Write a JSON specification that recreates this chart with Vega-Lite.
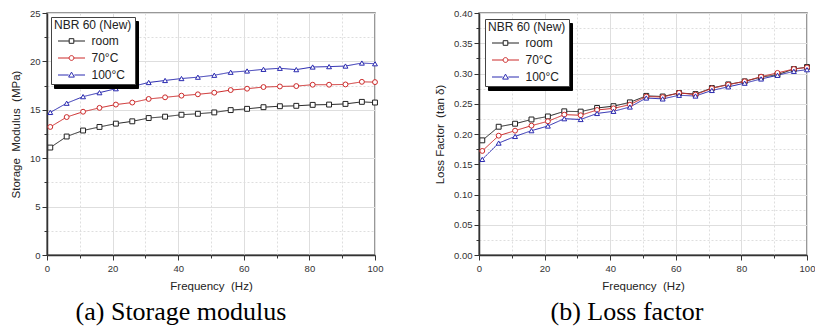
{
  "$schema": "https://vega.github.io/schema/vega-lite/v6.json",
  "padding": {"left": 9, "top": 7, "right": 0, "bottom": 0},
  "spacing": 49,
  "background": "white",
  "config": {
    "font": "Liberation Sans",
    "view": {"stroke": "#777777", "strokeWidth": 1.5},
    "axis": {
      "labelFont": "Liberation Sans", "labelFontSize": 9.5, "labelColor": "#333333",
      "titleFont": "Liberation Sans", "titleFontSize": 11.5, "titleFontWeight": "normal", "titleColor": "#222222",
      "domainColor": "#333333", "domainWidth": 1.5, "tickColor": "#333333", "tickWidth": 1,
      "gridColor": "#dedede", "gridWidth": 1, "labelPadding": 2, "titlePadding": 8,
      "labelFlush": false, "labelOverlap": false, "labelBound": false
    },
    "legend": {
      "labelFont": "Liberation Sans", "labelFontSize": 12, "labelColor": "#222222",
      "titleFont": "Liberation Sans", "titleFontSize": 12, "titleFontWeight": "normal", "titleColor": "#222222",
      "padding": 3, "titlePadding": 3, "rowPadding": 5, "symbolSize": 36, "symbolStrokeWidth": 1, "cornerRadius": 0,
      "symbolOffset": 11.5, "labelOffset": 14
    }
  },
  "datasets": {
    "modulus": [
      {"f": 1, "s": "room", "v": 11.1}, {"f": 6, "s": "room", "v": 12.24}, {"f": 11, "s": "room", "v": 12.86}, {"f": 16, "s": "room", "v": 13.23}, {"f": 21, "s": "room", "v": 13.57}, {"f": 26, "s": "room", "v": 13.81}, {"f": 31, "s": "room", "v": 14.15}, {"f": 36, "s": "room", "v": 14.29}, {"f": 41, "s": "room", "v": 14.49}, {"f": 46, "s": "room", "v": 14.59}, {"f": 51, "s": "room", "v": 14.73}, {"f": 56, "s": "room", "v": 14.97}, {"f": 61, "s": "room", "v": 15.10}, {"f": 66, "s": "room", "v": 15.27}, {"f": 71, "s": "room", "v": 15.37}, {"f": 76, "s": "room", "v": 15.41}, {"f": 81, "s": "room", "v": 15.51}, {"f": 86, "s": "room", "v": 15.54}, {"f": 91, "s": "room", "v": 15.61}, {"f": 96, "s": "room", "v": 15.82}, {"f": 100, "s": "room", "v": 15.75},
      {"f": 1, "s": "70°C", "v": 13.23}, {"f": 6, "s": "70°C", "v": 14.25}, {"f": 11, "s": "70°C", "v": 14.80}, {"f": 16, "s": "70°C", "v": 15.20}, {"f": 21, "s": "70°C", "v": 15.54}, {"f": 26, "s": "70°C", "v": 15.75}, {"f": 31, "s": "70°C", "v": 16.12}, {"f": 36, "s": "70°C", "v": 16.29}, {"f": 41, "s": "70°C", "v": 16.46}, {"f": 46, "s": "70°C", "v": 16.60}, {"f": 51, "s": "70°C", "v": 16.77}, {"f": 56, "s": "70°C", "v": 17.04}, {"f": 61, "s": "70°C", "v": 17.18}, {"f": 66, "s": "70°C", "v": 17.35}, {"f": 71, "s": "70°C", "v": 17.41}, {"f": 76, "s": "70°C", "v": 17.45}, {"f": 81, "s": "70°C", "v": 17.59}, {"f": 86, "s": "70°C", "v": 17.59}, {"f": 91, "s": "70°C", "v": 17.62}, {"f": 96, "s": "70°C", "v": 17.89}, {"f": 100, "s": "70°C", "v": 17.86},
      {"f": 1, "s": "100°C", "v": 14.73}, {"f": 6, "s": "100°C", "v": 15.68}, {"f": 11, "s": "100°C", "v": 16.36}, {"f": 16, "s": "100°C", "v": 16.77}, {"f": 21, "s": "100°C", "v": 17.18}, {"f": 26, "s": "100°C", "v": 17.41}, {"f": 31, "s": "100°C", "v": 17.82}, {"f": 36, "s": "100°C", "v": 18.03}, {"f": 41, "s": "100°C", "v": 18.23}, {"f": 46, "s": "100°C", "v": 18.37}, {"f": 51, "s": "100°C", "v": 18.57}, {"f": 56, "s": "100°C", "v": 18.88}, {"f": 61, "s": "100°C", "v": 19.01}, {"f": 66, "s": "100°C", "v": 19.18}, {"f": 71, "s": "100°C", "v": 19.29}, {"f": 76, "s": "100°C", "v": 19.15}, {"f": 81, "s": "100°C", "v": 19.42}, {"f": 86, "s": "100°C", "v": 19.46}, {"f": 91, "s": "100°C", "v": 19.52}, {"f": 96, "s": "100°C", "v": 19.83}, {"f": 100, "s": "100°C", "v": 19.76}
    ],
    "loss": [
      {"f": 1, "s": "room", "v": 0.1895}, {"f": 6, "s": "room", "v": 0.212}, {"f": 11, "s": "room", "v": 0.217}, {"f": 16, "s": "room", "v": 0.224}, {"f": 21, "s": "room", "v": 0.229}, {"f": 26, "s": "room", "v": 0.2375}, {"f": 31, "s": "room", "v": 0.237}, {"f": 36, "s": "room", "v": 0.243}, {"f": 41, "s": "room", "v": 0.246}, {"f": 46, "s": "room", "v": 0.2523}, {"f": 51, "s": "room", "v": 0.263}, {"f": 56, "s": "room", "v": 0.262}, {"f": 61, "s": "room", "v": 0.2678}, {"f": 66, "s": "room", "v": 0.266}, {"f": 71, "s": "room", "v": 0.276}, {"f": 76, "s": "room", "v": 0.282}, {"f": 81, "s": "room", "v": 0.287}, {"f": 86, "s": "room", "v": 0.294}, {"f": 91, "s": "room", "v": 0.298}, {"f": 96, "s": "room", "v": 0.3074}, {"f": 100, "s": "room", "v": 0.3107},
      {"f": 1, "s": "70°C", "v": 0.172}, {"f": 6, "s": "70°C", "v": 0.1972}, {"f": 11, "s": "70°C", "v": 0.2055}, {"f": 16, "s": "70°C", "v": 0.2138}, {"f": 21, "s": "70°C", "v": 0.221}, {"f": 26, "s": "70°C", "v": 0.232}, {"f": 31, "s": "70°C", "v": 0.231}, {"f": 36, "s": "70°C", "v": 0.2397}, {"f": 41, "s": "70°C", "v": 0.2424}, {"f": 46, "s": "70°C", "v": 0.2485}, {"f": 51, "s": "70°C", "v": 0.262}, {"f": 56, "s": "70°C", "v": 0.261}, {"f": 61, "s": "70°C", "v": 0.268}, {"f": 66, "s": "70°C", "v": 0.265}, {"f": 71, "s": "70°C", "v": 0.2755}, {"f": 76, "s": "70°C", "v": 0.2815}, {"f": 81, "s": "70°C", "v": 0.287}, {"f": 86, "s": "70°C", "v": 0.2948}, {"f": 91, "s": "70°C", "v": 0.301}, {"f": 96, "s": "70°C", "v": 0.3074}, {"f": 100, "s": "70°C", "v": 0.310},
      {"f": 1, "s": "100°C", "v": 0.158}, {"f": 6, "s": "100°C", "v": 0.185}, {"f": 11, "s": "100°C", "v": 0.196}, {"f": 16, "s": "100°C", "v": 0.2055}, {"f": 21, "s": "100°C", "v": 0.2132}, {"f": 26, "s": "100°C", "v": 0.2253}, {"f": 31, "s": "100°C", "v": 0.224}, {"f": 36, "s": "100°C", "v": 0.234}, {"f": 41, "s": "100°C", "v": 0.2375}, {"f": 46, "s": "100°C", "v": 0.2446}, {"f": 51, "s": "100°C", "v": 0.2595}, {"f": 56, "s": "100°C", "v": 0.258}, {"f": 61, "s": "100°C", "v": 0.264}, {"f": 66, "s": "100°C", "v": 0.2628}, {"f": 71, "s": "100°C", "v": 0.272}, {"f": 76, "s": "100°C", "v": 0.278}, {"f": 81, "s": "100°C", "v": 0.284}, {"f": 86, "s": "100°C", "v": 0.291}, {"f": 91, "s": "100°C", "v": 0.297}, {"f": 96, "s": "100°C", "v": 0.3036}, {"f": 100, "s": "100°C", "v": 0.3063}
    ]
  },
  "resolve": {
    "scale": {"color": "independent", "shape": "independent", "strokeDash": "independent"},
    "legend": {"color": "independent", "shape": "independent", "strokeDash": "independent"}
  },
  "hconcat": [
    {
      "width": 328, "height": 242,
      "data": {"name": "modulus"},
      "title": {"text": "(a) Storage modulus", "orient": "bottom", "frame": "group", "font": "Liberation Serif", "fontSize": 26, "fontWeight": "normal", "color": "#000000", "dx": -30, "offset": 7},
      "encoding": {
        "x": {"field": "f", "type": "quantitative", "scale": {"domain": [0, 100], "nice": false, "zero": false},
          "axis": {"title": "Frequency\u00a0 (Hz)", "values": [0, 10, 20, 30, 40, 50, 60, 70, 80, 90, 100], "labelPadding": 3,
            "labelExpr": "datum.value % 20 === 0 ? datum.label : ''",
            "gridDash": {"condition": {"test": "datum.value % 20 !== 0", "value": [2, 2]}, "value": []},
            "tickSize": {"condition": {"test": "datum.value % 20 !== 0", "value": 3}, "value": 5}}},
        "y": {"field": "v", "type": "quantitative", "scale": {"domain": [0, 25], "nice": false},
          "axis": {"title": "Storage\u00a0 Modulus\u00a0 (MPa)", "values": [0, 2.5, 5, 7.5, 10, 12.5, 15, 17.5, 20, 22.5, 25],
            "labelExpr": "datum.value % 5 === 0 ? datum.label : ''",
            "gridDash": {"condition": {"test": "datum.value % 5 !== 0", "value": [2, 2]}, "value": []},
            "tickSize": {"condition": {"test": "datum.value % 5 !== 0", "value": 3}, "value": 5}}}
      },
      "layer": [
        {
          "mark": {"type": "line", "strokeWidth": 1},
          "encoding": {
            "color": {"field": "s", "type": "nominal", "sort": ["room", "70°C", "100°C"],
              "scale": {"domain": ["room", "70°C", "100°C"], "range": ["#222222", "#cc2a2a", "#2a2ab0"]},
              "legend": {"title": "NBR 60 (New)", "orient": "top-left", "offset": 4, "fillColor": "#ffffff", "strokeColor": "#444444", "zindex": 4,
                "symbolType": {"expr": "datum.value === 'room' ? 'M-4.5,0H-0.77M0.77,0H4.5M-0.77,-0.77H0.77V0.77H-0.77Z' : datum.value === '70°C' ? 'M-4.5,0H-0.8M0.8,0H4.5M-0.8,0A0.8,0.8 0 1,0 0.8,0A0.8,0.8 0 1,0 -0.8,0Z' : 'M-4.5,0H-0.95M0.95,0H4.5M0,-0.95L0.95,0.7H-0.95Z'"}}},
            "strokeDash": {"field": "s", "type": "nominal", "sort": ["room", "70°C", "100°C"],
              "scale": {"domain": ["room", "70°C", "100°C"], "range": [[1, 0], [1, 0], [1, 0]]},
              "legend": {"title": "NBR 60 (New)", "orient": "none", "legendX": 7, "legendY": 8, "fillColor": "#000000", "strokeColor": "#000000", "titleColor": "#000000", "labelColor": "#000000", "symbolStrokeColor": "#000000", "zindex": 3, "symbolType": "M-4.5,0H4.5"}}
          }
        },
        {
          "mark": {"type": "point", "filled": false, "fill": "#ffffff", "strokeWidth": 1, "size": 24, "opacity": 1},
          "encoding": {
            "color": {"field": "s", "type": "nominal", "sort": ["room", "70°C", "100°C"], "legend": null},
            "shape": {"field": "s", "type": "nominal", "scale": {"domain": ["100°C", "70°C", "room"], "range": ["triangle-up", "circle", "square"]}, "legend": null}
          }
        }
      ]
    },
    {
      "width": 328, "height": 242,
      "data": {"name": "loss"},
      "title": {"text": "(b) Loss factor", "orient": "bottom", "frame": "group", "font": "Liberation Serif", "fontSize": 26, "fontWeight": "normal", "color": "#000000", "dx": -16, "offset": 7},
      "encoding": {
        "x": {"field": "f", "type": "quantitative", "scale": {"domain": [0, 100], "nice": false, "zero": false},
          "axis": {"title": "Frequency\u00a0 (Hz)", "values": [0, 10, 20, 30, 40, 50, 60, 70, 80, 90, 100], "labelPadding": 3,
            "labelExpr": "datum.value % 20 === 0 ? datum.label : ''",
            "gridDash": {"condition": {"test": "datum.value % 20 !== 0", "value": [2, 2]}, "value": []},
            "tickSize": {"condition": {"test": "datum.value % 20 !== 0", "value": 3}, "value": 5}}},
        "y": {"field": "v", "type": "quantitative", "scale": {"domain": [0, 0.4], "nice": false},
          "axis": {"title": "Loss Factor\u00a0 (tan δ)", "values": [0, 0.025, 0.05, 0.075, 0.1, 0.125, 0.15, 0.175, 0.2, 0.225, 0.25, 0.275, 0.3, 0.325, 0.35, 0.375, 0.4],
            "labelExpr": "abs(datum.value * 20 - round(datum.value * 20)) < 0.001 ? format(datum.value, '.2f') : ''",
            "gridDash": {"condition": {"test": "abs(datum.value * 20 - round(datum.value * 20)) > 0.001", "value": [2, 2]}, "value": []},
            "tickSize": {"condition": {"test": "abs(datum.value * 20 - round(datum.value * 20)) > 0.001", "value": 3}, "value": 5}}}
      },
      "layer": [
        {
          "mark": {"type": "line", "strokeWidth": 1},
          "encoding": {
            "color": {"field": "s", "type": "nominal", "sort": ["room", "70°C", "100°C"],
              "scale": {"domain": ["room", "70°C", "100°C"], "range": ["#222222", "#cc2a2a", "#2a2ab0"]},
              "legend": {"title": "NBR 60 (New)", "orient": "top-left", "offset": 6, "fillColor": "#ffffff", "strokeColor": "#444444", "zindex": 4,
                "symbolType": {"expr": "datum.value === 'room' ? 'M-4.5,0H-0.77M0.77,0H4.5M-0.77,-0.77H0.77V0.77H-0.77Z' : datum.value === '70°C' ? 'M-4.5,0H-0.8M0.8,0H4.5M-0.8,0A0.8,0.8 0 1,0 0.8,0A0.8,0.8 0 1,0 -0.8,0Z' : 'M-4.5,0H-0.95M0.95,0H4.5M0,-0.95L0.95,0.7H-0.95Z'"}}},
            "strokeDash": {"field": "s", "type": "nominal", "sort": ["room", "70°C", "100°C"],
              "scale": {"domain": ["room", "70°C", "100°C"], "range": [[1, 0], [1, 0], [1, 0]]},
              "legend": {"title": "NBR 60 (New)", "orient": "none", "legendX": 9, "legendY": 10, "fillColor": "#000000", "strokeColor": "#000000", "titleColor": "#000000", "labelColor": "#000000", "symbolStrokeColor": "#000000", "zindex": 3, "symbolType": "M-4.5,0H4.5"}}
          }
        },
        {
          "mark": {"type": "point", "filled": false, "fill": "#ffffff", "strokeWidth": 1, "size": 24, "opacity": 1},
          "encoding": {
            "color": {"field": "s", "type": "nominal", "sort": ["room", "70°C", "100°C"], "legend": null},
            "shape": {"field": "s", "type": "nominal", "scale": {"domain": ["100°C", "70°C", "room"], "range": ["triangle-up", "circle", "square"]}, "legend": null}
          }
        }
      ]
    }
  ]
}
